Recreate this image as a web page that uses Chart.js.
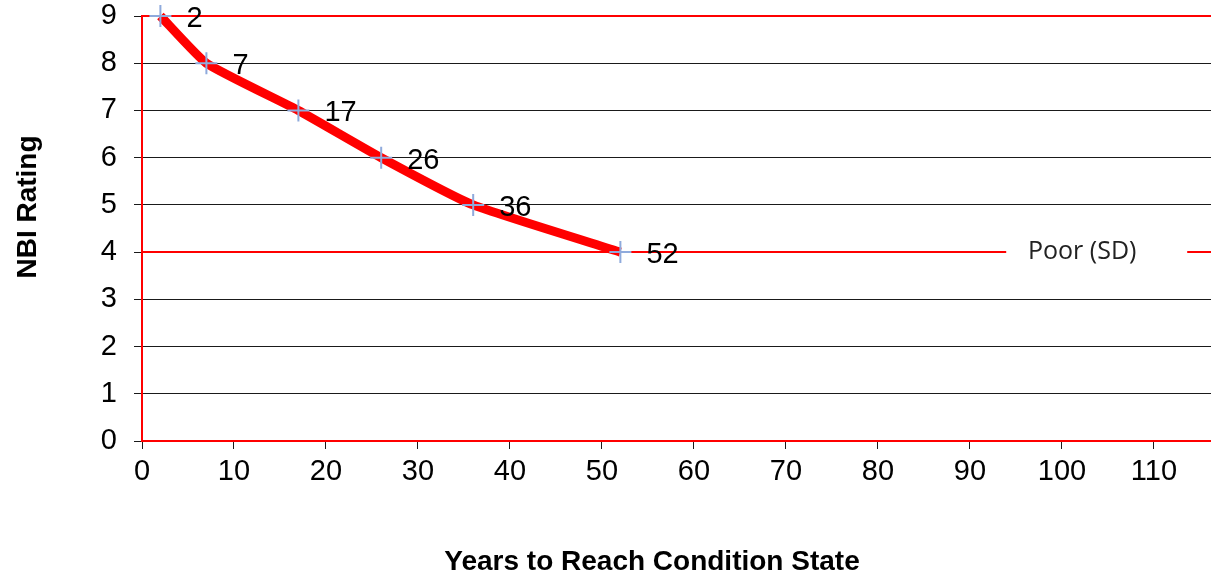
<!DOCTYPE html>
<html>
<head>
<meta charset="utf-8">
<title>NBI Rating deterioration</title>
<script src="https://cdn.jsdelivr.net/npm/chart.js@4.4.1/dist/chart.umd.min.js"></script>
<style>
  html, body { margin: 0; padding: 0; background: #fff; }
  #wrap { width: 1211px; height: 575px; }
</style>
</head>
<body>
<div id="wrap"><canvas id="c" width="1211" height="575"></canvas></div>
<script>
// Years needed to reach each NBI condition rating
const years = [2, 7, 17, 26, 36, 52];
const ratings = [9, 8, 7, 6, 5, 4];
// Reference levels drawn as red rules
const topRating = 9;
const poorRating = 4;
const poorLabel = 'Poor (SD)';
const xMin = 0;
const xMax = 116.2;
const xStep = 10;
const yMin = 0;
const yMax = 9;
const xTitle = 'Years to Reach Condition State';
const yTitle = 'NBI Rating';

const RED = '#ff0000';
const GRID = '#1a1a1a';
const MARK = '#8faadc';
const TICK_FONT = { family: 'Liberation Sans, Arial, sans-serif', size: 29 };

const curve = years.map((x, i) => ({ x, y: ratings[i] }));
const rule = (y) => [{ x: xMin, y }, { x: xMax, y }];

// Value labels next to each point on the curve
const pointLabels = {
  id: 'pointLabels',
  afterDatasetsDraw(chart) {
    const { ctx } = chart;
    const meta = chart.getDatasetMeta(0);
    ctx.save();
    ctx.fillStyle = '#000';
    ctx.font = '29px "Liberation Sans", Arial, sans-serif';
    ctx.textAlign = 'left';
    ctx.textBaseline = 'middle';
    meta.data.forEach((pt, i) => {
      ctx.fillText(String(years[i]), pt.x + 26, pt.y + 3);
    });
    ctx.restore();
  }
};

// Text label sitting in a gap of the "poor" rule
const ruleLabel = {
  id: 'ruleLabel',
  afterDatasetsDraw(chart) {
    const { ctx, scales } = chart;
    const y = scales.y.getPixelForValue(poorRating);
    const cx = scales.x.getPixelForValue(102.2);
    ctx.save();
    ctx.fillStyle = '#fff';
    ctx.fillRect(cx - 76, y - 4, 181, 8);
    ctx.font = '25px "Open Sans", sans-serif';
    ctx.fillStyle = '#222';
    ctx.textAlign = 'center';
    ctx.textBaseline = 'middle';
    ctx.fillText(poorLabel, cx, y);
    ctx.restore();
  }
};

// Axis titles
const axisTitles = {
  id: 'axisTitles',
  afterDraw(chart) {
    const { ctx } = chart;
    ctx.save();
    ctx.fillStyle = '#000';
    ctx.font = 'bold 28px "Liberation Sans", Arial, sans-serif';
    ctx.textAlign = 'center';
    ctx.textBaseline = 'middle';
    ctx.fillText(xTitle, 652, 562);
    ctx.translate(28, 207);
    ctx.rotate(-Math.PI / 2);
    ctx.fillText(yTitle, 0, 0);
    ctx.restore();
  }
};

new Chart(document.getElementById('c'), {
  type: 'line',
  data: {
    datasets: [
      {
        label: 'Rating',
        data: curve,
        borderColor: RED,
        borderWidth: 9,
        tension: 0.15,
        pointStyle: 'cross',
        pointRadius: 11,
        pointBorderColor: MARK,
        pointBorderWidth: 2,
        pointBackgroundColor: MARK,
        clip: false
      },
      { label: 'top', data: rule(topRating), borderColor: RED, borderWidth: 2, pointRadius: 0, clip: false },
      { label: 'poor', data: rule(poorRating), borderColor: RED, borderWidth: 2, pointRadius: 0, clip: false },
      { label: 'base', data: rule(yMin), borderColor: RED, borderWidth: 2, pointRadius: 0, clip: false }
    ]
  },
  options: {
    responsive: false,
    animation: false,
    layout: { autoPadding: false, padding: { top: 16, right: 0, left: 0, bottom: 0 } },
    plugins: { legend: { display: false }, tooltip: { enabled: false } },
    scales: {
      x: {
        type: 'linear',
        min: xMin,
        max: xMax,
        afterFit: (s) => { s.height = 134; s.paddingLeft = 0; s.paddingRight = 0; },
        ticks: {
          stepSize: xStep,
          includeBounds: false,
          color: '#000',
          font: TICK_FONT,
          padding: 6,
          maxRotation: 0
        },
        grid: { drawOnChartArea: false, tickLength: 8, color: GRID, tickColor: GRID },
        border: { color: GRID, width: 1 }
      },
      y: {
        min: yMin,
        max: yMax,
        afterFit: (s) => { s.width = 142; s.paddingTop = 0; s.paddingBottom = 0; },
        ticks: { stepSize: 1, color: '#000', font: TICK_FONT, padding: 17 },
        grid: { color: GRID, tickLength: 8, tickColor: GRID, lineWidth: 1 },
        border: { color: RED, width: 2 }
      }
    }
  },
  plugins: [pointLabels, ruleLabel, axisTitles]
});
</script>
</body>
</html>
